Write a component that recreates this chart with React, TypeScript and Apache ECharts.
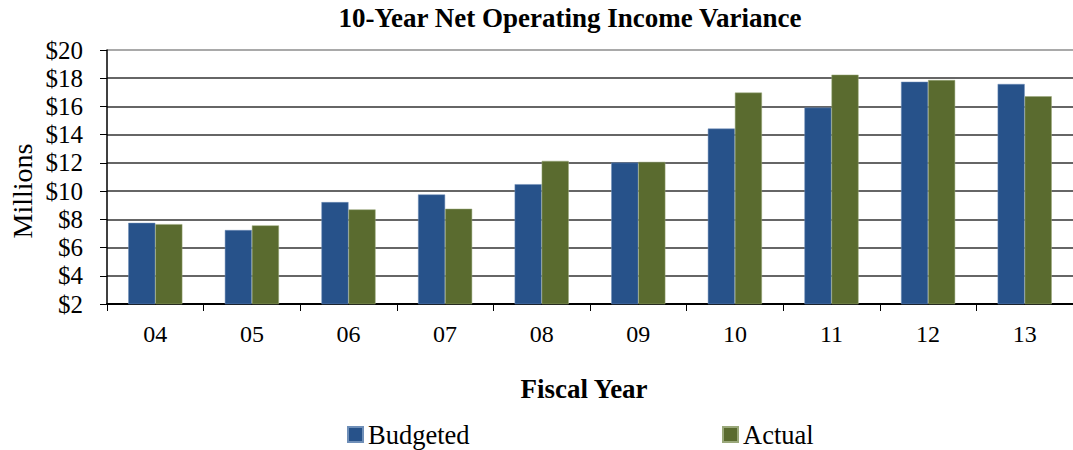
import React, { useEffect, useRef } from "react";
import * as echarts from "echarts";

const categories = ["04", "05", "06", "07", "08", "09", "10", "11", "12", "13"];
const budgeted = [7.75, 7.24, 9.22, 9.76, 10.49, 12.02, 14.43, 15.92, 17.75, 17.59];
const actual = [7.66, 7.57, 8.7, 8.75, 12.14, 12.07, 16.98, 18.25, 17.87, 16.72];
const seriesNames = ["Budgeted", "Actual"];
const titleText = "10-Year Net Operating Income Variance";
const xTitle = "Fiscal Year";
const yTitle = "Millions";

const FONT = "Liberation Serif";
const BLUE = "#27528A";
const GREEN = "#5A6B2F";

export default function App() {
  const ref = useRef<HTMLDivElement>(null);
  useEffect(() => {
    document.body.style.margin = "0";
    const chart = echarts.init(ref.current!, null, { renderer: "svg" });
    const gridColors = Array(9).fill("#333333").concat(["#8c8c8c"]);
    const legendText = { fontFamily: FONT, fontSize: 26.5, color: "#000" };
    chart.setOption({
      animation: false,
      backgroundColor: "#ffffff",
      textStyle: { fontFamily: FONT },
      title: [
        {
          text: titleText,
          left: 570,
          top: 4,
          padding: 0,
          textAlign: "center",
          textStyle: { fontFamily: FONT, fontSize: 27, fontWeight: "bold", color: "#000" },
        },
        {
          text: xTitle,
          left: 584,
          top: 375,
          padding: 0,
          textAlign: "center",
          textStyle: { fontFamily: FONT, fontSize: 27, fontWeight: "bold", color: "#000" },
        },
      ],
      graphic: [
        {
          type: "text",
          x: 22,
          y: 191,
          rotation: Math.PI / 2,
          style: {
            text: yTitle,
            fontFamily: FONT,
            fontSize: 28,
            fill: "#000",
            align: "center",
            verticalAlign: "middle",
          },
        },
      ],
      legend: [
        {
          data: [seriesNames[0]],
          left: 347,
          top: 421,
          padding: 0,
          icon: "rect",
          itemWidth: 15,
          itemHeight: 15,
          textStyle: legendText,
        },
        {
          data: [seriesNames[1]],
          left: 722,
          top: 421,
          padding: 0,
          icon: "rect",
          itemWidth: 15,
          itemHeight: 15,
          textStyle: legendText,
        },
      ],
      grid: { left: 107, top: 50, width: 976, height: 254, containLabel: false },
      xAxis: {
        type: "category",
        data: categories,
        axisLine: { lineStyle: { color: "#000", width: 2 } },
        axisTick: { show: true, length: 7, lineStyle: { color: "#000" } },
        axisLabel: { fontFamily: FONT, fontSize: 24, color: "#000", margin: 18 },
      },
      yAxis: {
        type: "value",
        min: 2,
        max: 20,
        interval: 2,
        axisLine: { show: true, lineStyle: { color: "#000", width: 1.5 } },
        axisTick: { show: true, length: 7, lineStyle: { color: "#000" } },
        axisLabel: {
          fontFamily: FONT,
          fontSize: 25,
          color: "#000",
          margin: 24,
          formatter: (v: number) => "$" + v,
        },
        splitLine: { show: true, lineStyle: { color: gridColors, width: 1.5 } },
      },
      series: [
        {
          name: seriesNames[0],
          type: "bar",
          data: budgeted,
          barGap: "0%",
          barCategoryGap: "44%",
          itemStyle: { color: BLUE, borderColor: "#6f8fb8", borderWidth: 0.5 },
        },
        {
          name: seriesNames[1],
          type: "bar",
          data: actual,
          itemStyle: { color: GREEN, borderColor: "#9aa87a", borderWidth: 0.5 },
        },
      ],
    });
    return () => chart.dispose();
  }, []);
  return <div ref={ref} style={{ width: 1073, height: 450 }} />;
}
